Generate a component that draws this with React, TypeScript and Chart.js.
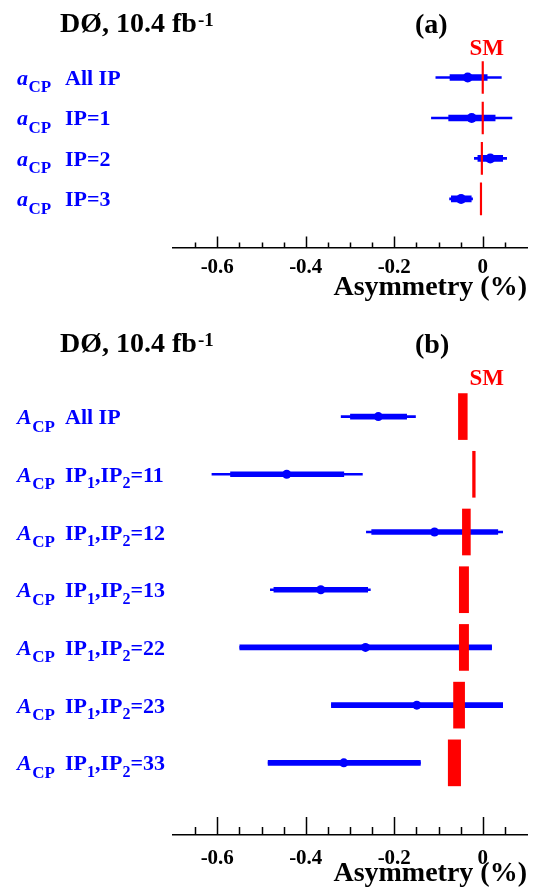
import React, { useEffect, useRef } from 'react';
import { Chart, registerables } from 'chart.js';

Chart.register(...registerables);

const SERIF = "'Liberation Serif', 'Times New Roman', Times, serif";
const BLUE = '#0000ff';
const RED = '#ff0000';

// x-axis ticks (percent)
const xMajorTicks = [-0.6, -0.4, -0.2, 0];
const xMinorTicks = [-0.65, -0.55, -0.5, -0.45, -0.35, -0.3, -0.25, -0.15, -0.1, -0.05, 0.05];

// Panel (a): a_CP
const labelsA = ['All IP', 'IP=1', 'IP=2', 'IP=3'];
const centralA = [-0.034, -0.025, 0.017, -0.049];
const statLoA = [-0.074, -0.077, -0.011, -0.071];
const statHiA = [0.010, 0.028, 0.045, -0.026];
const totLoA = [-0.106, -0.116, -0.019, -0.075];
const totHiA = [0.042, 0.066, 0.054, -0.023];
const smLoA = [-0.0017, -0.0017, -0.0037, -0.0057];
const smHiA = [0.0017, 0.0017, -0.0003, -0.0023];

// Panel (b): A_CP
const labelsB = ['All IP', 'IP_1,IP_2=11', 'IP_1,IP_2=12', 'IP_1,IP_2=13', 'IP_1,IP_2=22', 'IP_1,IP_2=23', 'IP_1,IP_2=33'];
const centralB = [-0.236, -0.443, -0.109, -0.366, -0.265, -0.149, -0.314];
const statLoB = [-0.299, -0.570, -0.251, -0.472, -0.549, -0.342, -0.485];
const statHiB = [-0.172, -0.314, 0.034, -0.260, 0.020, 0.045, -0.141];
const totLoB = [-0.320, -0.612, -0.263, -0.480, -0.549, -0.342, -0.485];
const totHiB = [-0.152, -0.272, 0.045, -0.254, 0.020, 0.045, -0.141];
const smLoB = [-0.055, -0.023, -0.046, -0.053, -0.053, -0.066, -0.078];
const smHiB = [-0.035, -0.017, -0.028, -0.032, -0.032, -0.041, -0.050];

type Spec = {
  tag: string;
  symbol: string;
  labels: string[];
  central: number[];
  statLo: number[];
  statHi: number[];
  totLo: number[];
  totHi: number[];
  smLo: number[];
  smHi: number[];
  top: number;
  height: number;
  padTop: number;
  padBottom: number;
  yMin: number;
  yMax: number;
  tickPad: number;
  titleTop: number;
  titleBottom: number;
  majorLen: number;
  minorLen: number;
  thinW: number;
  thickW: number;
  dotR: number;
  smH: number;
  titleBase: number;
  tagBase: number;
  smBase: number;
};

const specA: Spec = {
  tag: '(a)', symbol: 'a', labels: labelsA, central: centralA,
  statLo: statLoA, statHi: statHiA, totLo: totLoA, totHi: totHiA, smLo: smLoA, smHi: smHiA,
  top: 0, height: 305, padTop: 37, padBottom: 5, yMin: -1, yMax: 4.2,
  tickPad: 9.5, titleTop: -14, titleBottom: -1.5, majorLen: 11, minorLen: 5,
  thinW: 2, thickW: 6, dotR: 5, smH: 32, titleBase: 31.7, tagBase: 33, smBase: 55,
};

const specB: Spec = {
  tag: '(b)', symbol: 'A', labels: labelsB, central: centralB,
  statLo: statLoB, statHi: statHiB, totLo: totLoB, totHi: totHiB, smLo: smLoB, smHi: smHiB,
  top: 300, height: 595, padTop: 30, padBottom: 0, yMin: -1.5, yMax: 7.25,
  tickPad: 12.8, titleTop: -22.1, titleBottom: 7.5, majorLen: 18, minorLen: 8,
  thinW: 2, thickW: 5, dotR: 4.5, smH: 46, titleBase: 52, tagBase: 53.3, smBase: 85,
};

function parseSegments(s: string) {
  const segs: { t: string; sub: boolean }[] = [];
  let cur = '';
  for (let i = 0; i < s.length; i++) {
    if (s[i] === '_' && i + 1 < s.length) {
      if (cur) segs.push({ t: cur, sub: false });
      cur = '';
      segs.push({ t: s[i + 1], sub: true });
      i++;
    } else {
      cur += s[i];
    }
  }
  if (cur) segs.push({ t: cur, sub: false });
  return segs;
}

function overlay(spec: Spec) {
  return {
    id: 'overlay' + spec.tag,
    afterDraw(chart: any) {
      const { ctx, chartArea, scales } = chart;
      const xs = scales.x;
      const ys = scales.y;
      ctx.save();
      // axis tick marks pointing up
      ctx.strokeStyle = '#000';
      ctx.lineWidth = 1.5;
      const yb = chartArea.bottom;
      ctx.beginPath();
      xMajorTicks.forEach((v) => {
        const px = Math.round(xs.getPixelForValue(v)) + 0.5;
        ctx.moveTo(px, yb);
        ctx.lineTo(px, yb - spec.majorLen);
      });
      xMinorTicks.forEach((v) => {
        const px = Math.round(xs.getPixelForValue(v)) + 0.5;
        ctx.moveTo(px, yb);
        ctx.lineTo(px, yb - spec.minorLen);
      });
      ctx.stroke();

      // title
      ctx.textAlign = 'left';
      ctx.textBaseline = 'alphabetic';
      ctx.fillStyle = '#000';
      ctx.font = `bold 28px ${SERIF}`;
      const t = 'DØ, 10.4 fb';
      ctx.fillText(t, 60, spec.titleBase);
      const w = ctx.measureText(t).width;
      ctx.font = `bold 19px ${SERIF}`;
      ctx.fillText('-1', 60 + w + 1, spec.titleBase - 6);
      ctx.font = `bold 28px ${SERIF}`;
      ctx.fillText(spec.tag, 415, spec.tagBase);

      // SM label
      ctx.fillStyle = RED;
      ctx.font = `bold 23px ${SERIF}`;
      ctx.textAlign = 'center';
      ctx.fillText('SM', xs.getPixelForValue(0) + 4, spec.smBase);

      // row labels
      ctx.fillStyle = BLUE;
      ctx.textAlign = 'left';
      spec.labels.forEach((lab, i) => {
        const base = ys.getPixelForValue(i) + 7.5;
        let x = 17;
        ctx.font = `italic bold 22px ${SERIF}`;
        ctx.fillText(spec.symbol, x, base);
        x += ctx.measureText(spec.symbol).width + 0.5;
        ctx.font = `bold 17px ${SERIF}`;
        ctx.fillText('CP', x, base + 7.5);
        let lx = 65;
        parseSegments(lab).forEach((seg) => {
          if (seg.sub) {
            ctx.font = `bold 16px ${SERIF}`;
            ctx.fillText(seg.t, lx, base + 6.5);
          } else {
            ctx.font = `bold 22px ${SERIF}`;
            ctx.fillText(seg.t, lx, base);
          }
          lx += ctx.measureText(seg.t).width;
        });
      });
      ctx.restore();
    },
  };
}

function makeConfig(spec: Spec): any {
  return {
    type: 'bar',
    data: {
      datasets: [
        {
          type: 'bar', indexAxis: 'y', grouped: false, order: 3,
          data: spec.totLo.map((lo, i) => ({ x: [lo, spec.totHi[i]], y: i })),
          barThickness: spec.thinW, backgroundColor: BLUE, borderWidth: 0,
        },
        {
          type: 'bar', indexAxis: 'y', grouped: false, order: 2,
          data: spec.statLo.map((lo, i) => ({ x: [lo, spec.statHi[i]], y: i })),
          barThickness: spec.thickW, backgroundColor: BLUE, borderWidth: 0,
        },
        {
          type: 'scatter', order: 1,
          data: spec.central.map((v, i) => ({ x: v, y: i })),
          pointRadius: spec.dotR, pointBackgroundColor: BLUE, pointBorderWidth: 0, showLine: false,
        },
        {
          type: 'bar', indexAxis: 'y', grouped: false, order: 0,
          data: spec.smLo.map((lo, i) => ({ x: [lo, spec.smHi[i]], y: i })),
          barThickness: spec.smH, backgroundColor: RED, borderWidth: 0,
        },
      ],
    },
    options: {
      responsive: false,
      animation: false,
      events: [],
      layout: { padding: { left: 173, right: 18, top: spec.padTop, bottom: spec.padBottom } },
      plugins: { legend: { display: false }, tooltip: { enabled: false } },
      scales: {
        x: {
          type: 'linear', position: 'bottom', min: -0.7, max: 0.1, offset: false,
          grid: { display: false, drawTicks: false, offset: false },
          border: { display: true, color: '#000', width: 1.5 },
          afterBuildTicks: (s: any) => { s.ticks = xMajorTicks.map((v) => ({ value: v })); },
          ticks: {
            autoSkip: false, maxRotation: 0, minRotation: 0, padding: spec.tickPad, color: '#000',
            font: { family: SERIF, size: 21, weight: 'bold', lineHeight: 1 },
            callback: (v: any) => String(Math.round(Number(v) * 10) / 10),
          },
          title: {
            display: true, text: 'Asymmetry (%)', align: 'end', color: '#000',
            font: { family: SERIF, size: 28, weight: 'bold', lineHeight: 1 },
            padding: { top: spec.titleTop, bottom: spec.titleBottom },
          },
        },
        y: {
          type: 'linear', min: spec.yMin, max: spec.yMax, reverse: true, display: false, offset: false,
          grid: { offset: false },
        },
      },
    },
    plugins: [overlay(spec)],
  };
}

function Panel({ spec }: { spec: Spec }) {
  const ref = useRef<HTMLCanvasElement>(null);
  useEffect(() => {
    if (!ref.current) return;
    const chart = new Chart(ref.current, makeConfig(spec));
    return () => chart.destroy();
  }, [spec]);
  return (
    <div style={{ position: 'absolute', left: 0, top: spec.top, width: 545, height: spec.height }}>
      <canvas ref={ref} width={545} height={spec.height} style={{ display: 'block' }} />
    </div>
  );
}

export default function App() {
  return (
    <div style={{ position: 'absolute', left: 0, top: 0, width: 545, height: 895, background: '#fff' }}>
      <Panel spec={specA} />
      <Panel spec={specB} />
    </div>
  );
}
